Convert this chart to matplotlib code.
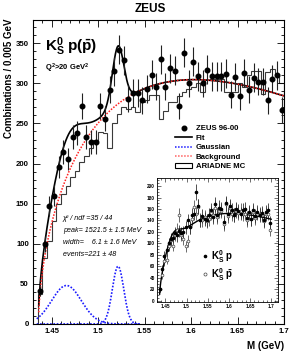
import numpy as np
import matplotlib
matplotlib.use('Agg')
import matplotlib.pyplot as plt
from matplotlib.lines import Line2D
from matplotlib.patches import Rectangle
from matplotlib.ticker import MultipleLocator, FuncFormatter

plt.rcParams['font.family'] = ['Liberation Sans', 'DejaVu Sans']
plt.rcParams['mathtext.fontset'] = 'custom'
plt.rcParams['mathtext.rm'] = 'Liberation Sans'
plt.rcParams['mathtext.bf'] = 'Liberation Sans:bold'
plt.rcParams['mathtext.it'] = 'Liberation Sans:italic'

W, H = 290, 354
def fx(px): return px / W
def fy(py): return 1 - py / H

# ---------------- data ----------------
bin_edges = np.round(np.arange(1.435, 1.7001, 0.005), 4)
bin_centers = (bin_edges[:-1] + bin_edges[1:]) / 2

zeus_counts = [41, 100, 147, 160, 196, 214, 206, 233, 238, 272, 233, 227, 227, 272, 256,
               292, 315, 342, 329, 281, 288, 288, 279, 293, 311, 296, 330, 296, 319, 316,
               272, 338, 300, 327, 309, 300, 317, 309, 309, 309, 312, 286, 308, 284, 313,
               292, 307, 302, 302, 279, 306, 310, 267]
zeus_errors = [6, 10, 12, 13, 14, 15, 14, 15, 15, 16, 15, 15, 15, 16, 16,
               17, 18, 18, 18, 17, 17, 17, 17, 17, 18, 17, 18, 17, 18, 18,
               16, 18, 17, 18, 18, 17, 18, 18, 18, 18, 18, 17, 18, 17, 18,
               17, 18, 17, 17, 17, 17, 18, 16]
ariadne_mc = [38, 82, 104, 129, 150, 162, 172, 183, 191, 202, 210, 220, 229, 239, 238,
              220, 250, 262, 270, 268, 270, 264, 277, 279, 285, 285, 255, 266, 277, 277,
              284, 289, 293, 296, 300, 289, 304, 306, 306, 306, 289, 289, 289, 300, 296,
              310, 316, 316, 287, 314, 318, 310, 300]

# inset: K0S p and K0S pbar separately
inset_p = [20, 55, 78, 88, 100, 108, 110, 118, 114, 122, 118, 120, 128, 140, 128,
           150, 152, 190, 165, 140, 148, 142, 140, 150, 158, 146, 168, 150, 162, 160,
           138, 170, 152, 165, 158, 150, 160, 156, 152, 158, 160, 145, 155, 142, 158,
           148, 155, 150, 153, 140, 155, 158, 135]
inset_p_err = [5, 8, 9, 9, 10, 10, 10, 11, 11, 11, 11, 11, 11, 12, 11,
               12, 12, 14, 13, 12, 12, 12, 12, 12, 13, 12, 13, 12, 13, 13,
               12, 13, 12, 13, 13, 12, 13, 12, 12, 13, 13, 12, 12, 12, 13,
               12, 12, 12, 12, 12, 12, 13, 12]
inset_pbar = [21, 45, 69, 72, 96, 106, 96, 115, 124, 150, 115, 107, 95, 104, 128,
              142, 163, 152, 164, 141, 140, 146, 139, 143, 153, 150, 162, 146, 157, 156,
              134, 168, 148, 162, 151, 150, 157, 153, 157, 151, 152, 141, 153, 142, 155,
              144, 152, 152, 149, 139, 151, 152, 124]
inset_pbar_err = [5, 7, 8, 8, 10, 10, 10, 11, 11, 12, 11, 10, 10, 10, 11,
                  12, 13, 12, 13, 12, 12, 12, 12, 12, 12, 12, 13, 12, 13, 12,
                  12, 13, 12, 13, 12, 12, 13, 12, 13, 12, 12, 12, 12, 12, 12,
                  12, 12, 12, 12, 12, 12, 12, 11]

# fit parameters
m_thr = 1.4359
bg_norm, bg_pow, bg_slope = 1491.0, 0.57, 3.40
g1_amp, g1_mean, g1_sigma = 48.0, 1.466, 0.016
g2_amp, g2_mean, g2_sigma = 72.0, 1.5215, 0.0061
inset_scale = 0.5

def background(m):
    d = np.clip(m - m_thr, 0, None)
    return bg_norm * d ** bg_pow * np.exp(-bg_slope * d)

def gauss(m, a, mu, s):
    return a * np.exp(-0.5 * ((m - mu) / s) ** 2)

# ---------------- figure ----------------
fig = plt.figure(figsize=(W / 100, H / 100), dpi=100)
ax = fig.add_axes([fx(33), fy(324), fx(284) - fx(33), fy(20) - fy(324)])

ax.stairs(ariadne_mc, bin_edges, color='#3a3a3a', lw=0.8, baseline=0)

m_fit = np.linspace(m_thr + 0.0003, 1.70, 500)
m_gaus = np.linspace(1.434, 1.545, 400)
ax.plot(m_gaus, gauss(m_gaus, g1_amp, g1_mean, g1_sigma), color='#1a1aff', ls=(0, (1, 1)), lw=1.2, clip_on=False)
ax.plot(m_gaus, gauss(m_gaus, g2_amp, g2_mean, g2_sigma), color='#1a1aff', ls=(0, (1, 1)), lw=1.2, clip_on=False)
ax.plot(m_fit, background(m_fit) + gauss(m_fit, g1_amp, g1_mean, g1_sigma) + gauss(m_fit, g2_amp, g2_mean, g2_sigma),
        color='black', lw=1.2)
ax.plot(m_fit, background(m_fit), color='#ff2020', ls=(0, (1, 1)), lw=1.1)
ax.errorbar(bin_centers, zeus_counts, yerr=zeus_errors, fmt='o', ms=3.3, color='black',
            ecolor='#222222', elinewidth=0.8, capsize=0)

ax.set_xlim(1.43, 1.70)
ax.set_ylim(0, 379)
ax.xaxis.set_major_locator(MultipleLocator(0.05))
ax.xaxis.set_minor_locator(MultipleLocator(0.01))
ax.yaxis.set_major_locator(MultipleLocator(50))
ax.yaxis.set_minor_locator(MultipleLocator(10))
ax.xaxis.set_major_formatter(FuncFormatter(lambda v, p: '%g' % round(v, 3)))
ax.tick_params(which='both', direction='in', top=True, right=True, width=0.6, labelsize=5.6)
ax.tick_params(which='major', length=5, pad=3)
ax.tick_params(which='minor', length=2.5)
for lab in ax.get_xticklabels() + ax.get_yticklabels():
    lab.set_fontweight('bold')
for sp in ax.spines.values():
    sp.set_linewidth(0.8)

fig.text(0.52, fy(8.5), 'ZEUS', ha='center', va='center', fontsize=8.5, fontweight='bold')
fig.text(fx(284), fy(346), 'M (GeV)', ha='right', va='center', fontsize=7, fontweight='bold')
fig.text(fx(9), fy(18), 'Combinations / 0.005 GeV', ha='center', va='top', rotation=90,
         fontsize=7, fontweight='bold')

fig.text(fx(45), fy(47), r'$\mathbf{K^0_S\;p(\bar{p})}$', ha='left', va='center', fontsize=11)
fig.text(fx(45), fy(68), r'$\mathbf{Q^2}$>20 GeV$\mathbf{^2}$', ha='left', va='center', fontsize=5.5, fontweight='bold')

stats = ['χ² / ndf =35 / 44', 'peak= 1521.5 ± 1.5 MeV', 'width=    6.1 ± 1.6 MeV', 'events=221 ± 48']
for i, s in enumerate(stats):
    fig.text(fx(63), fy(218 + 12.2 * i), s, ha='left', va='center', fontsize=5.1, style='italic')

handles = [Line2D([], [], marker='o', ls='none', color='black', ms=3.3),
           Line2D([], [], color='black', lw=1.2),
           Line2D([], [], color='#1a1aff', ls=(0, (1, 1)), lw=1.1),
           Line2D([], [], color='#ff6060', ls=(0, (1, 1)), lw=1.1),
           Rectangle((0, 0), 1, 1, fill=False, ec='black', lw=0.8)]
labels = ['ZEUS 96-00', 'Fit', 'Gaussian', 'Background', 'ARIADNE MC']
ax.legend(handles, labels, loc='upper left', bbox_to_anchor=(fx(175), fy(125)),
          bbox_transform=fig.transFigure, frameon=False, prop=dict(size=5.6, weight='bold'),
          handlelength=2.2, handletextpad=0.45, labelspacing=0.25, borderpad=0, borderaxespad=0)

# ---------------- inset ----------------
axi = fig.add_axes([fx(157), fy(302), fx(277.5) - fx(157), fy(178) - fy(302)])
axi.set_facecolor('white')
axi.errorbar(bin_centers, inset_pbar, yerr=inset_pbar_err, fmt='o', ms=2.0, mfc='white', mec='#444444',
             mew=0.5, ecolor='#555555', elinewidth=0.6, capsize=0)
axi.errorbar(bin_centers, inset_p, yerr=inset_p_err, fmt='o', ms=1.6, color='black',
             ecolor='#333333', elinewidth=0.6, capsize=0)
axi.plot(m_fit, inset_scale * (background(m_fit) + gauss(m_fit, g1_amp, g1_mean, g1_sigma)), color='black', lw=1.0)
axi.set_xlim(1.43, 1.715)
axi.set_ylim(-2, 214)
axi.xaxis.set_major_locator(MultipleLocator(0.05))
axi.xaxis.set_minor_locator(MultipleLocator(0.01))
axi.yaxis.set_major_locator(MultipleLocator(20))
axi.yaxis.set_minor_locator(MultipleLocator(5))
axi.xaxis.set_major_formatter(FuncFormatter(lambda v, p: '%g' % round(v, 3)))
axi.tick_params(which='both', direction='in', top=True, right=True, width=0.4, labelsize=3.4, pad=1.5)
axi.tick_params(which='major', length=3)
axi.tick_params(which='minor', length=1.5)
for lab in axi.get_xticklabels() + axi.get_yticklabels():
    lab.set_fontweight('bold')
for sp in axi.spines.values():
    sp.set_linewidth(0.6)

ih = [Line2D([], [], marker='o', ls='none', color='black', ms=1.6),
      Line2D([], [], marker='o', ls='none', mfc='white', mec='#444444', mew=0.5, ms=2.2)]
il = [r'$\mathbf{K^0_S\;p}$', r'$\mathbf{K^0_S\;\bar{p}}$']
axi.legend(ih, il, loc='upper left', bbox_to_anchor=(fx(203), fy(248)), bbox_transform=fig.transFigure,
           frameon=False, prop=dict(size=7, weight='bold'), handlelength=0.5, handletextpad=0.3,
           labelspacing=0.1, borderpad=0, borderaxespad=0)

fig.savefig('out.png', dpi=100)
